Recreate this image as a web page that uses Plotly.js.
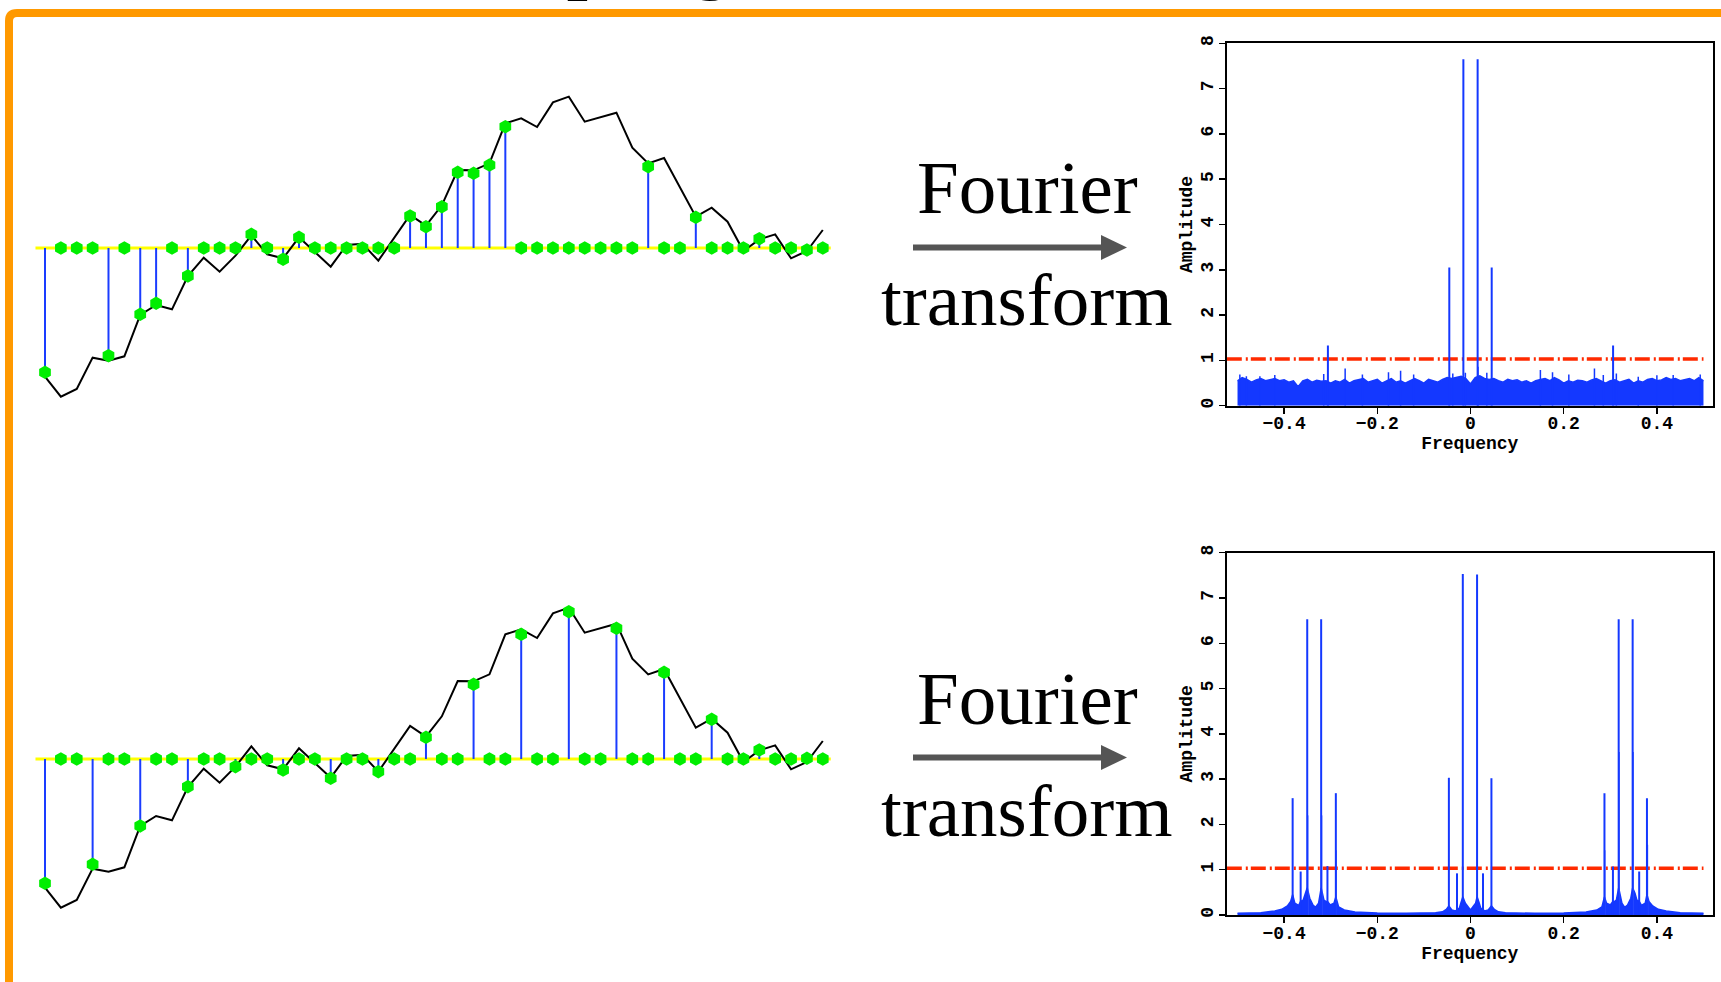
<!DOCTYPE html>
<html><head><meta charset="utf-8">
<script src="https://cdn.plot.ly/plotly-3.0.1.min.js"></script>
<style>html,body{margin:0;padding:0;background:#fff;overflow:hidden}#chart{width:1721px;height:982px}</style>
</head><body><div id="chart"></div>
<script>
// ---------------- data ----------------
// underlying time signal (same in both rows)
const signal = [-38.6,-44.6,-42.3,-32.9,-33.8,-32.5,-20.1,-17.1,-18.4,-8.4,
  -2.9,-7.1,-2.3,3.8,-1.9,-3.1,3.2,-1.2,-5.6,0.9,
  1.3,-3.8,3.2,9.9,6.7,12.8,23.4,23.3,25.4,37.4,
  38.9,36.3,43.7,45.4,37.9,39.2,40.6,30.1,25.4,27.0,
  18.1,9.4,12.1,7.9,-0.9,2.6,4.1,-3.1,-0.9,5.4];
// random sampling (top row)
const randomIdx = [0,4,6,7,9,13,15,16,23,24,25,26,27,28,29,38,41,45,48];
const randomVal = [-37.3,-32.3,-19.9,-16.6,-8.4,4.1,-3.4,3.2,9.6,6.4,12.4,22.7,22.4,24.9,36.4,24.4,9.2,2.8,-0.6];
// regular sampling, every 3rd (bottom row)
const regularIdx = [0,3,6,9,12,15,18,21,24,27,30,33,36,39,42,45,48];
const regularVal = [-37.3,-31.6,-20.1,-8.3,-2.3,-3.3,-5.8,-3.8,6.5,22.4,37.4,44.2,39.2,26.0,11.9,2.7,0.2];

// top spectrum: noise floor envelope
const noiseFreq = [-0.50,-0.49,-0.48,-0.47,-0.46,-0.45,-0.44,-0.43,-0.42,-0.41,-0.40,-0.39,-0.38,-0.37,-0.36,-0.35,-0.34,-0.33,-0.32,-0.31,
  -0.30,-0.29,-0.28,-0.27,-0.26,-0.25,-0.24,-0.23,-0.22,-0.21,-0.20,-0.19,-0.18,-0.17,-0.16,-0.15,-0.14,-0.13,-0.12,-0.11,
  -0.10,-0.09,-0.08,-0.07,-0.06,-0.05,-0.04,-0.03,-0.02,-0.01,0.00,0.01,0.02,0.03,0.04,0.05,0.06,0.07,0.08,0.09,
  0.10,0.11,0.12,0.13,0.14,0.15,0.16,0.17,0.18,0.19,0.20,0.21,0.22,0.23,0.24,0.25,0.26,0.27,0.28,0.29,
  0.30,0.31,0.32,0.33,0.34,0.35,0.36,0.37,0.38,0.39,0.40,0.41,0.42,0.43,0.44,0.45,0.46,0.47,0.48,0.49,0.50];
const noiseAmp = [0.55,0.62,0.58,0.52,0.57,0.60,0.55,0.58,0.60,0.55,0.57,0.52,0.55,0.42,0.55,0.58,0.52,0.56,0.54,0.55,
  0.50,0.55,0.52,0.58,0.50,0.55,0.58,0.60,0.52,0.55,0.58,0.50,0.55,0.60,0.52,0.55,0.50,0.55,0.60,0.55,
  0.50,0.58,0.55,0.52,0.58,0.62,0.60,0.62,0.65,0.60,0.48,0.62,0.66,0.60,0.58,0.60,0.55,0.52,0.58,0.55,
  0.57,0.52,0.55,0.50,0.55,0.58,0.60,0.55,0.62,0.57,0.50,0.55,0.52,0.56,0.55,0.52,0.57,0.60,0.55,0.50,
  0.55,0.57,0.52,0.55,0.58,0.50,0.55,0.52,0.58,0.60,0.55,0.57,0.62,0.58,0.60,0.55,0.58,0.60,0.55,0.62,0.55];
// top spectrum: small spikes above the floor
const noiseSpikeFreq = [-0.495,-0.481,-0.452,-0.420,-0.315,-0.269,-0.232,-0.176,-0.150,-0.122,-0.038,-0.011,0.016,0.035,0.150,0.176,0.211,0.266,0.285,0.313,0.360,0.400,0.435,0.493];
const noiseSpikeAmp  = [0.69,0.65,0.65,0.68,0.70,0.82,0.69,0.74,0.77,0.69,0.71,0.73,0.86,0.73,0.79,0.74,0.69,0.82,0.68,0.71,0.64,0.67,0.68,0.69];
// top spectrum: main peaks
const topPeakFreq = [-0.306,-0.0455,-0.0153,0.0153,0.0455,0.306];
const topPeakAmp  = [1.33,3.05,7.65,7.65,3.05,1.33];

// bottom spectrum: leakage envelope
const botBaseFreq = [-0.5,-0.45,-0.42,-0.405,-0.393,-0.386,-0.3817,-0.377,-0.369,-0.3645,-0.359,-0.355,-0.3504,-0.345,-0.338,-0.3325,-0.326,-0.3224,-0.3205,-0.3145,-0.309,-0.307,-0.301,-0.293,-0.289,-0.283,-0.271,-0.248,-0.2,-0.138,-0.075,-0.06,-0.052,-0.0464,-0.04,-0.032,-0.029,-0.024,-0.02,-0.0165,-0.011,0,
  0.011,0.0141,0.018,0.022,0.0268,0.030,0.038,0.0449,0.051,0.06,0.075,0.138,0.2,0.248,0.271,0.282,0.2875,0.292,0.300,0.3057,0.308,0.313,0.318,0.3205,0.325,0.331,0.337,0.344,0.348,0.353,0.357,0.362,0.367,0.375,0.3787,0.383,0.391,0.403,0.42,0.45,0.5];
const botBaseAmp  = [0.04,0.05,0.09,0.125,0.2,0.3,0.45,0.26,0.21,0.3,0.33,0.48,0.6,0.37,0.22,0.17,0.26,0.48,0.6,0.33,0.29,0.3,0.22,0.26,0.4,0.18,0.11,0.066,0.044,0.037,0.05,0.07,0.125,0.2,0.11,0.09,0.12,0.15,0.29,0.4,0.26,0.11,
  0.26,0.4,0.29,0.15,0.12,0.09,0.11,0.2,0.125,0.07,0.05,0.037,0.044,0.066,0.11,0.18,0.4,0.26,0.22,0.3,0.29,0.33,0.6,0.48,0.26,0.17,0.22,0.37,0.6,0.48,0.33,0.3,0.21,0.26,0.45,0.3,0.2,0.125,0.09,0.05,0.04];
// bottom spectrum: peaks
const botPeakFreq = [-0.3817,-0.3645,-0.3504,-0.3205,-0.307,-0.289,-0.0464,-0.029,-0.0165,0.0141,0.0268,0.0449,0.2875,0.3057,0.318,0.348,0.362,0.3787];
const botPeakAmp  = [2.58,0.96,6.53,6.53,1.08,2.69,3.03,0.92,7.53,7.52,0.92,3.02,2.69,1.07,6.53,6.53,0.96,2.58];
// bottom spectrum: neighbouring lines of the strongest peaks
const botSideFreq = [-0.3494,-0.3195,-0.2885,0.2880,0.3190,0.3490,0.3797];
const botSideAmp  = [2.2,2.2,1.43,1.43,3.6,3.6,1.55];

const threshold = 1.03;
const freqTicks = [-0.4,-0.2,0,0.2,0.4];
const ampTicks = [0,1,2,3,4,5,6,7,8];

// ---------------- helpers ----------------
const W = 1721, H = 982;
const X = p => p / W;           // pixel -> paper x
const Y = p => 1 - p / H;       // pixel -> paper y
const timeIndex = signal.map((_, i) => i);

function stems(xs, ys) {
  const x = [], y = [];
  xs.forEach((v, k) => { x.push(v, v, null); y.push(0, ys[k], null); });
  return {x, y};
}
function markerValues(idx, val) {
  return timeIndex.map(i => { const k = idx.indexOf(i); return k >= 0 ? val[k] : 0; });
}

const BLUE = '#1438ff';
const traces = [];
function seriesPanel(idx, val, xa, ya) {
  traces.push({x: [timeIndex[0] - 0.6, timeIndex[timeIndex.length - 1] + 0.5], y: [0, 0], xaxis: xa, yaxis: ya,
    mode: 'lines', line: {color: '#ffff00', width: 3}, hoverinfo: 'skip', showlegend: false});
  const s = stems(idx, val);
  traces.push({x: s.x, y: s.y, xaxis: xa, yaxis: ya, mode: 'lines', line: {color: '#1a3cff', width: 2},
    showlegend: false, hoverinfo: 'skip'});
  traces.push({x: timeIndex, y: signal, xaxis: xa, yaxis: ya, mode: 'lines', line: {color: '#000', width: 2},
    showlegend: false});
  traces.push({x: timeIndex, y: markerValues(idx, val), xaxis: xa, yaxis: ya, mode: 'markers', cliponaxis: false,
    marker: {symbol: 'hexagon', size: 13.5, color: '#00ee00', line: {width: 0}}, showlegend: false});
}
seriesPanel(randomIdx, randomVal, 'x', 'y');
seriesPanel(regularIdx, regularVal, 'x2', 'y2');

// top spectrum
traces.push({x: noiseFreq, y: noiseAmp, xaxis: 'x3', yaxis: 'y3', mode: 'lines', fill: 'tozeroy',
  fillcolor: BLUE, line: {color: BLUE, width: 1.5}, showlegend: false});
let s = stems(noiseSpikeFreq, noiseSpikeAmp);
traces.push({x: s.x, y: s.y, xaxis: 'x3', yaxis: 'y3', mode: 'lines', line: {color: BLUE, width: 1.5}, showlegend: false});
traces.push({x: [-0.523, 0.5], y: [threshold, threshold], xaxis: 'x3', yaxis: 'y3', mode: 'lines',
  line: {color: '#ff2a00', width: 3.5, dash: '15px,4px,2px,3px'}, showlegend: false});
s = stems(topPeakFreq, topPeakAmp);
traces.push({x: s.x, y: s.y, xaxis: 'x3', yaxis: 'y3', mode: 'lines', line: {color: BLUE, width: 2}, showlegend: false});

// bottom spectrum
traces.push({x: botBaseFreq, y: botBaseAmp, xaxis: 'x4', yaxis: 'y4', mode: 'lines', fill: 'tozeroy',
  fillcolor: BLUE, line: {color: BLUE, width: 1.5}, showlegend: false});
traces.push({x: [-0.523, 0.5], y: [threshold, threshold], xaxis: 'x4', yaxis: 'y4', mode: 'lines',
  line: {color: '#ff2a00', width: 3.5, dash: '15px,4px,2px,3px'}, showlegend: false});
s = stems(botSideFreq, botSideAmp);
traces.push({x: s.x, y: s.y, xaxis: 'x4', yaxis: 'y4', mode: 'lines', line: {color: '#4a66ff', width: 1.5}, showlegend: false});
s = stems(botPeakFreq, botPeakAmp);
traces.push({x: s.x, y: s.y, xaxis: 'x4', yaxis: 'y4', mode: 'lines', line: {color: BLUE, width: 2}, showlegend: false});

// ---------------- layout ----------------
// left panels: index 0 at 45px, index 49 at 822.8px; 1 value unit = 3.333px
const xl0 = 17, xl1 = 843;
const kx = 49 / (822.8 - 45);
const leftXRange = [(xl0 - 45) * kx, (xl1 - 45) * kx];
const pxPerUnit = 3.333;
function leftY(zeroPx, top, bottom) {
  return {domain: [Y(bottom), Y(top)], range: [(zeroPx - bottom) / pxPerUnit, (zeroPx - top) / pxPerUnit], visible: false, fixedrange: true};
}
const hidX = dom => ({domain: dom, range: leftXRange, visible: false, fixedrange: true});

const tickFont = {family: 'Liberation Mono', size: 18, color: '#000', weight: 'bold'};
const titleFont = {family: 'Liberation Mono', size: 18, color: '#000', weight: 'bold'};
function specX(anchor) {
  return {domain: [X(1226.8), X(1712.8)], range: [-0.523, 0.520], anchor: anchor,
    tickvals: freqTicks, ticktext: freqTicks.map(v => v === 0 ? '0' : (v < 0 ? '\u2212' + Math.abs(v) : String(v))),
    ticks: 'outside', ticklen: 6, tickwidth: 1.5, tickcolor: '#000', ticklabelstandoff: -6,
    showline: true, mirror: true, linecolor: '#000', linewidth: 2, showgrid: false, zeroline: false,
    tickfont: tickFont, title: {text: 'Frequency', font: titleFont, standoff: 0}};
}
function specY(anchor, top, bottom) {
  return {domain: [Y(bottom), Y(top)], range: [0, 8], anchor: anchor, tickvals: ampTicks, tickangle: -90,
    ticks: 'outside', ticklen: 6, tickwidth: 1.5, tickcolor: '#000', ticklabelstandoff: -1,
    showline: true, mirror: true, linecolor: '#000', linewidth: 2, showgrid: false, zeroline: false,
    tickfont: tickFont, title: {text: 'Amplitude', font: titleFont, standoff: 0}};
}

const serif = {family: 'Liberation Serif', size: 75, color: '#000'};
const annotations = [];
const shapes = [];
[0, 510].forEach(dy => {
  annotations.push({xref: 'paper', yref: 'paper', x: X(1027), y: Y(188 + dy), xanchor: 'center', yanchor: 'middle',
    text: 'Fourier', showarrow: false, font: serif});
  annotations.push({xref: 'paper', yref: 'paper', x: X(1027), y: Y(300 + dy), xanchor: 'center', yanchor: 'middle',
    text: 'transform', showarrow: false, font: serif});
  shapes.push({type: 'line', xref: 'paper', yref: 'paper', x0: X(913), x1: X(1106), y0: Y(247.5 + dy), y1: Y(247.5 + dy),
    line: {color: '#555555', width: 6}});
  shapes.push({type: 'path', xref: 'paper', yref: 'paper',
    path: `M ${X(1101)},${Y(235 + dy)} L ${X(1127)},${Y(247.5 + dy)} L ${X(1101)},${Y(260 + dy)} Z`,
    fillcolor: '#555555', line: {width: 0}});
});
// heading above the frame (only its descenders reach into the picture)
annotations.push({xref: 'paper', yref: 'paper', x: X(423), y: Y(3), xanchor: 'left', yanchor: 'bottom',
  text: 'Sampling', showarrow: false, font: {family: 'Liberation Serif', size: 75, color: '#000', weight: 'bold'}});
// orange frame
shapes.push({type: 'path', xref: 'paper', yref: 'paper', layer: 'below',
  path: `M ${X(9)},${Y(1010)} L ${X(9)},${Y(21)} Q ${X(9)},${Y(13)} ${X(17)},${Y(13)} L ${X(1760)},${Y(13)}`,
  fillcolor: 'rgba(0,0,0,0)', line: {color: '#ff9900', width: 8}});

const layout = {
  width: W, height: H, margin: {l: 0, r: 0, t: 0, b: 0}, paper_bgcolor: '#fff', plot_bgcolor: 'rgba(0,0,0,0)',
  showlegend: false,
  xaxis: hidX([X(xl0), X(xl1)]), yaxis: Object.assign(leftY(248, 60, 440), {anchor: 'x'}),
  xaxis2: Object.assign(hidX([X(xl0), X(xl1)]), {anchor: 'y2'}), yaxis2: Object.assign(leftY(759, 540, 960), {anchor: 'x2'}),
  xaxis3: specX('y3'), yaxis3: specY('x3', 43.3, 405.7),
  xaxis4: specX('y4'), yaxis4: specY('x4', 552.7, 915),
  annotations: annotations, shapes: shapes
};
Plotly.newPlot('chart', traces, layout, {displayModeBar: false, staticPlot: true});
</script></body></html>
